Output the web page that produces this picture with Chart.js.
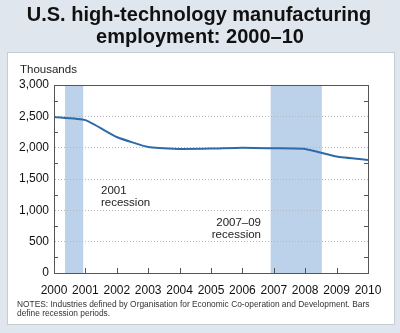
<!DOCTYPE html>
<html>
<head>
<meta charset="utf-8">
<script src="https://cdn.jsdelivr.net/npm/chart.js@4/dist/chart.umd.min.js"></script>
<style>
  html, body { margin: 0; padding: 0; background: #dfe6ee; }
  #wrap { width: 400px; height: 333px; position: relative; }
</style>
</head>
<body>
<div id="wrap"><canvas id="c" width="400" height="333"></canvas></div>
<script>
// Annual employment, thousands
const years = [2000, 2001, 2002, 2003, 2004, 2005, 2006, 2007, 2008, 2009, 2010];
const employment = [2490, 2440, 2170, 2010, 1980, 1985, 2000, 1990, 1980, 1860, 1805];
// Recession periods shaded on the x scale [start, end]
const recessions = [[2000.35, 2000.93], [2006.9, 2008.53]];
const yTicks = [0, 500, 1000, 1500, 2000, 2500, 3000];

const FONT = '"Liberation Sans", Arial, Helvetica, sans-serif';

const decor = {
  id: 'decor',
  beforeDraw(chart) {
    const ctx = chart.ctx;
    const { top, bottom } = chart.chartArea;
    const x = chart.scales.x;
    ctx.save();
    // page background and white panel
    ctx.fillStyle = '#dfe6ee';
    ctx.fillRect(0, 0, chart.width, chart.height);
    ctx.fillStyle = '#ffffff';
    ctx.fillRect(7, 52, 388, 273);
    ctx.strokeStyle = '#c4ccd6';
    ctx.lineWidth = 1;
    ctx.strokeRect(7.5, 52.5, 387, 272);
    // recession bands
    ctx.fillStyle = '#bcd1ea';
    recessions.forEach(([a, b]) => {
      const xa = x.getPixelForValue(a), xb = x.getPixelForValue(b);
      ctx.fillRect(xa, top, xb - xa, bottom - top);
    });
    // title
    ctx.fillStyle = '#111';
    ctx.textAlign = 'center';
    ctx.textBaseline = 'middle';
    ctx.font = 'bold 20px ' + FONT;
    ctx.fillText('U.S. high-technology manufacturing', 199, 15);
    ctx.fillText('employment: 2000\u201310', 200, 37);
    // unit label
    ctx.font = '11.5px ' + FONT;
    ctx.textAlign = 'left';
    ctx.fillStyle = '#222';
    ctx.fillText('Thousands', 20, 70);
    // notes
    ctx.font = '8.4px ' + FONT;
    ctx.fillStyle = '#333';
    ctx.fillText('NOTES: Industries defined by Organisation for Economic Co-operation and Development. Bars', 17, 305);
    ctx.fillText('define recession periods.', 17, 314);
    ctx.restore();
  },
  afterDatasetsDraw(chart) {
    const ctx = chart.ctx;
    const { left, right, top, bottom } = chart.chartArea;
    const x = chart.scales.x, y = chart.scales.y;
    ctx.save();
    ctx.strokeStyle = '#555';
    ctx.lineWidth = 1;
    ctx.setLineDash([]);
    // frame
    ctx.strokeRect(Math.round(left) + 0.5, Math.round(top) + 0.5, Math.round(right - left), Math.round(bottom - top));
    // inner minor ticks on left and right sides
    ctx.beginPath();
    for (let v = 250; v < 3000; v += 500) {
      const py = Math.round(y.getPixelForValue(v)) + 0.5;
      ctx.moveTo(left, py); ctx.lineTo(left + 4, py);
      ctx.moveTo(right - 4, py); ctx.lineTo(right, py);
    }
    // year ticks on the bottom
    years.forEach(yr => {
      const px = Math.round(x.getPixelForValue(yr)) + 0.5;
      ctx.moveTo(px, bottom); ctx.lineTo(px, bottom - 5);
    });
    ctx.stroke();
    // annotations
    ctx.fillStyle = '#222';
    ctx.font = '11.5px ' + FONT;
    ctx.textBaseline = 'middle';
    ctx.textAlign = 'left';
    ctx.fillText('2001', 101, 191);
    ctx.fillText('recession', 101, 203);
    ctx.textAlign = 'right';
    ctx.fillText('2007\u201309', 261, 223);
    ctx.fillText('recession', 261, 235);
    ctx.restore();
  }
};

new Chart(document.getElementById('c'), {
  type: 'line',
  data: {
    datasets: [{
      data: years.map((yr, i) => ({ x: yr, y: employment[i] })),
      borderColor: '#2f6aa8',
      borderWidth: 2,
      pointRadius: 0,
      tension: 0.15,
      fill: false
    }]
  },
  options: {
    responsive: false,
    animation: false,
    devicePixelRatio: 1,
    layout: { padding: { left: 10, right: 32, top: 85, bottom: 0 } },
    plugins: { legend: { display: false }, tooltip: { enabled: false } },
    scales: {
      x: {
        type: 'linear',
        min: 2000, max: 2010,
        afterBuildTicks(scale) { scale.ticks = years.map(v => ({ value: v })); },
        afterFit(scale) { scale.height = 60; },
        grid: { display: false, drawTicks: false },
        border: { display: true, color: '#555', width: 1 },
        ticks: {
          padding: 10,
          color: '#111',
          font: { family: FONT, size: 12 },
          maxRotation: 0,
          callback: v => String(v)
        }
      },
      y: {
        min: 0, max: 3000,
        afterBuildTicks(scale) { scale.ticks = yTicks.map(v => ({ value: v })); },
        afterFit(scale) { scale.width = 44; },
        grid: {
          drawTicks: false,
          color: ctx => (ctx.tick && (ctx.tick.value === 0 || ctx.tick.value === 3000)) ? 'rgba(0,0,0,0)' : '#b8b8b8',
          lineWidth: 1
        },
        border: { display: true, color: '#555', width: 1, dash: [1, 2] },
        ticks: {
          padding: 5,
          color: '#111',
          font: { family: FONT, size: 12 },
          callback: v => v.toLocaleString('en-US')
        }
      }
    }
  },
  plugins: [decor]
});
</script>
</body>
</html>
